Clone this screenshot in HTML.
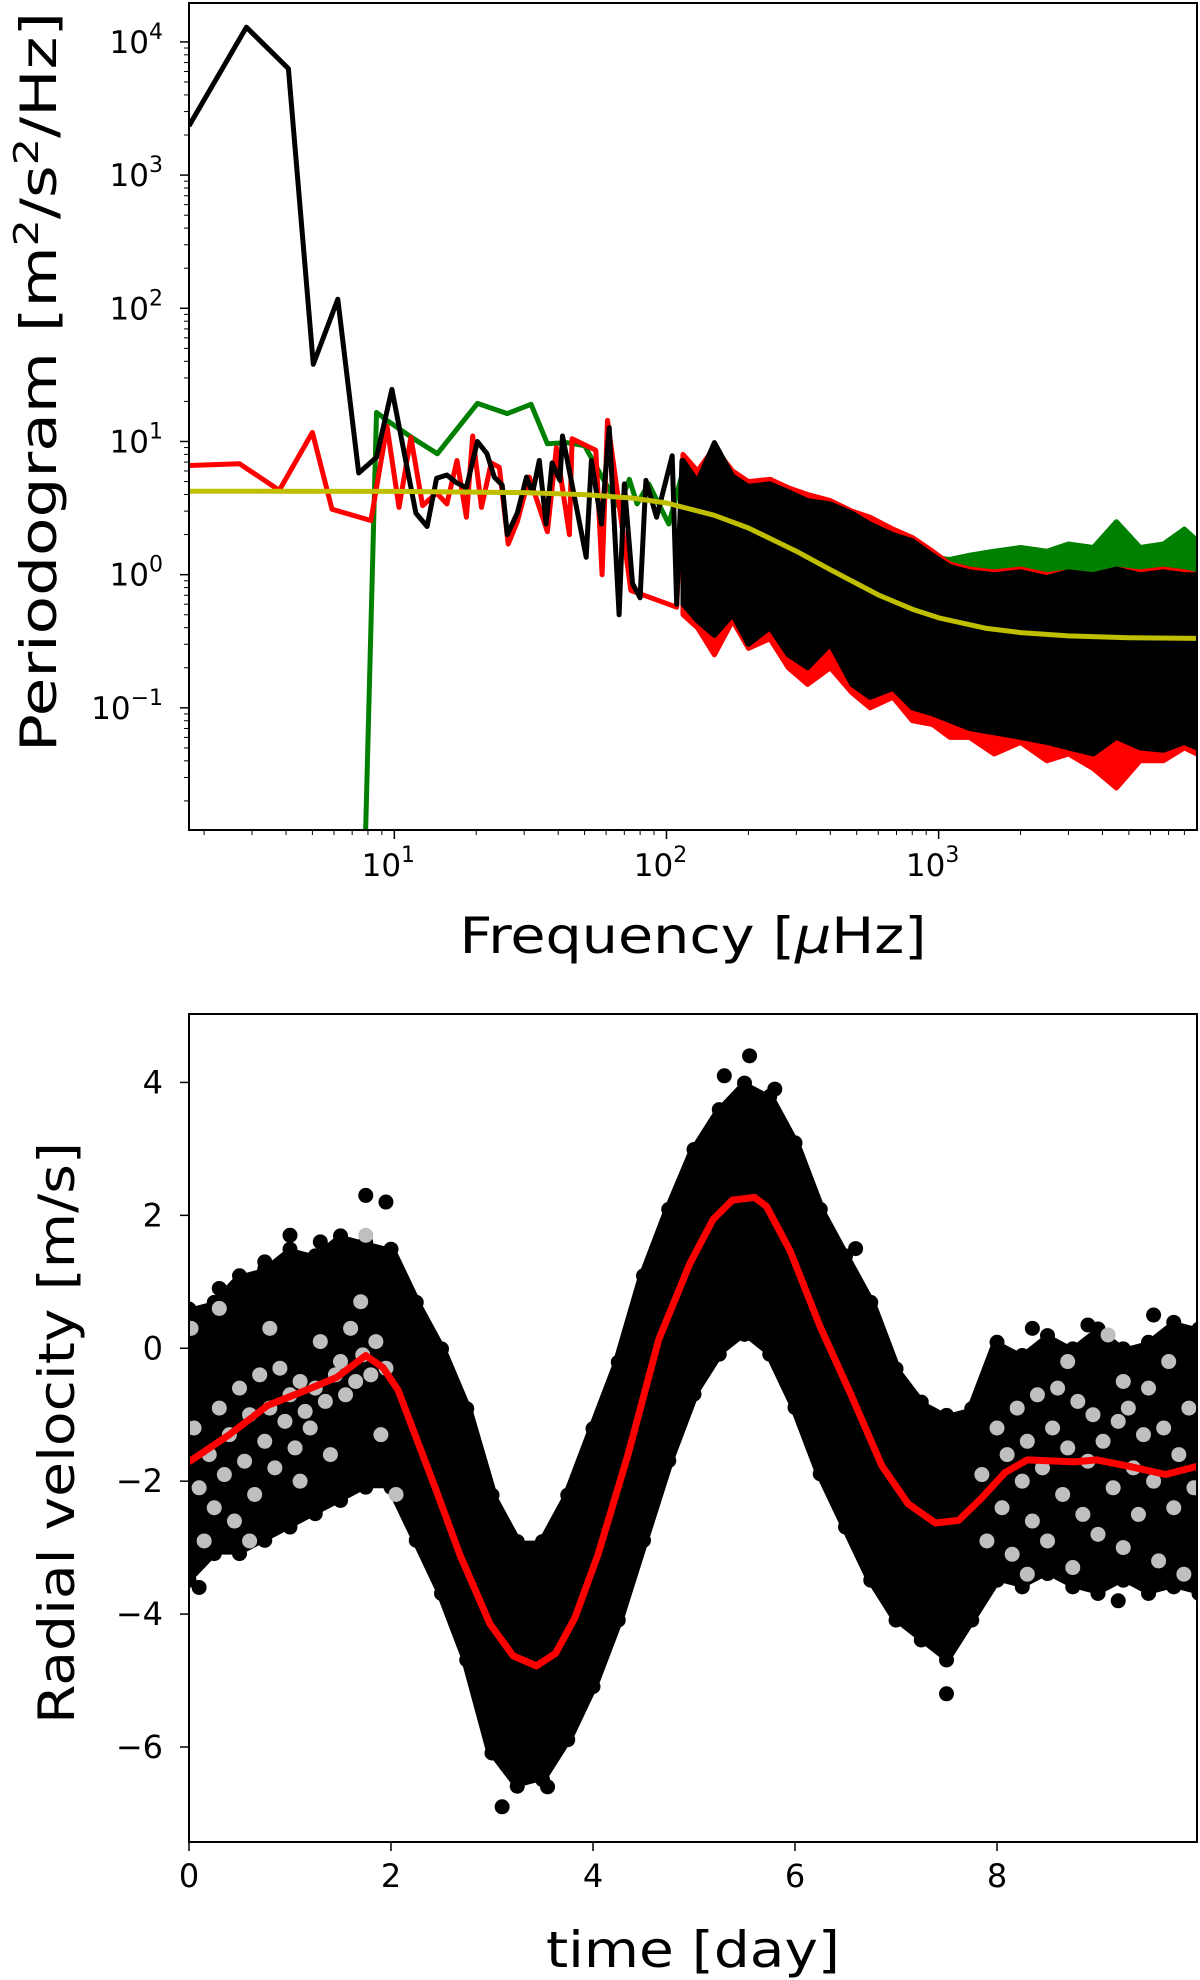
<!DOCTYPE html>
<html><head><meta charset="utf-8"><style>
html,body{margin:0;padding:0;background:#fff}
svg{display:block;font-family:"DejaVu Sans","Liberation Sans",sans-serif}
</style></head><body>
<svg id="fig" width="1200" height="1980" viewBox="0 0 1200 1980" xmlns="http://www.w3.org/2000/svg">
<defs>
<clipPath id="clipTop"><rect x="189" y="3" width="1008" height="827"/></clipPath>
<clipPath id="clipBot"><rect x="189" y="1014" width="1008" height="828"/></clipPath>
</defs>
<g id="topPanel"></g>
<g id="botPanel"></g>
</svg>
<script>
// ---------- Periodogram data ----------
const blackF = [1.76,2.86,4.08,5.04,6.2,7.4,8.6,9.8,12.0,13.2,14.3,15.6,16.9,18.4,20.2,21.9,23.3,24.9,26,28.3,30.6,32.2,34.1,36.1,38,40.6,41.5,44,50.7,53,57.7,61.6,67,70,75,80,84,92,105,109,114];
const blackP = [2340,12900,6300,38,117,5.8,7.6,24.6,2.9,2.3,5.3,5.6,4.9,4.5,10,8.1,5.4,4.7,2.0,2.9,5.4,4.1,7.2,2.4,6.9,5.1,11,6,1.35,7.2,2.4,12.7,0.5,4.8,0.86,0.67,5.1,2.7,7.8,0.6,7.2];
const redF = [1.76,2.7,3.78,5.0,5.9,7.0,8.2,9.4,10.4,11.5,12.7,14.3,15.6,17.0,18.4,19.4,20.9,22.7,24.3,26.2,28.3,31.3,36.5,39.4,44,45,55,58,60.7,74,109];
const redP = [6.6,6.8,4.3,11.7,3.1,2.8,2.55,13,3.2,10.7,3.3,4.1,3.4,7.2,2.7,11,3.2,6.9,6.4,1.7,2.5,5.4,2.1,9,2.0,10.5,8.6,1.0,14.4,0.76,0.57];
const greenF = [7.6,8.6,9.4,11.6,14.4,20.2,26,31.8,36.5,43,50,58,67,73,78,86,102];
const greenP = [0.001,16.5,14.4,10.7,8.1,19.3,16.2,19,9.6,9.8,9.3,5.4,3.2,5.2,3.4,4.8,2.4];
const denseF = [115,130,150,175,200,240,280,330,400,480,560,680,800,950,1100,1300,1600,2000,2500,3000,3700,4500,5500,6700,8000,8900];
const blackHi = [7.2,5.0,9.8,5.5,4.6,4.8,4.2,3.6,3.4,2.9,2.4,2.0,1.8,1.4,1.15,1.05,1.0,1.05,0.95,1.05,1.0,1.1,1.0,1.05,1.0,1.0];
const blackLo = [0.6,0.45,0.35,0.5,0.3,0.4,0.25,0.2,0.3,0.15,0.12,0.14,0.1,0.09,0.08,0.07,0.065,0.06,0.055,0.05,0.045,0.06,0.05,0.048,0.055,0.05];
const redHi = [8,6,9,6,5,5.2,4.5,4,3.6,3,2.7,2.2,1.9,1.5,1.2,1.1,1.05,1.1,1.0,1.05,1.0,1.1,1.05,1.1,1.05,1.0];
const redLo = [0.5,0.4,0.25,0.45,0.28,0.33,0.2,0.15,0.2,0.13,0.1,0.12,0.08,0.075,0.06,0.06,0.045,0.055,0.04,0.045,0.035,0.025,0.04,0.04,0.05,0.045];
const greenHi = [6,4.5,8,5,4.2,4.4,3.8,3.3,3.1,2.7,2.3,1.9,1.7,1.35,1.3,1.4,1.5,1.6,1.5,1.7,1.6,2.5,1.6,1.7,2.2,1.8];
const modelF = [1.76,10,30,50,75,100,150,200,300,400,600,800,1000,1500,2000,3000,5000,8900];
const modelP = [4.23,4.22,4.13,3.99,3.76,3.45,2.79,2.24,1.50,1.09,0.705,0.55,0.474,0.395,0.367,0.347,0.336,0.332];
const yDecades = [-1,0,1,2,3,4];
const xDecades = [1,2,3];

// ---------- Radial velocity data ----------
const modelT = [0,0.4,0.78,1.16,1.46,1.75,1.92,2.07,2.26,2.45,2.68,2.98,3.21,3.44,3.63,3.82,4.05,4.35,4.65,4.96,5.19,5.38,5.6,5.72,5.95,6.25,6.56,6.86,7.12,7.39,7.62,7.85,8.08,8.3,8.76,8.99,9.29,9.67,10];
const modelRV = [-1.71,-1.3,-0.86,-0.63,-0.44,-0.11,-0.29,-0.63,-1.39,-2.15,-3.1,-4.15,-4.63,-4.78,-4.59,-4.06,-3.1,-1.58,0.13,1.28,1.94,2.23,2.27,2.13,1.47,0.32,-0.72,-1.77,-2.34,-2.63,-2.59,-2.25,-1.87,-1.68,-1.71,-1.68,-1.77,-1.9,-1.77];
const envT = [0,0.25,0.5,0.75,1,1.25,1.5,1.75,2,2.25,2.5,2.75,3,3.25,3.5,3.75,4,4.25,4.5,4.75,5,5.25,5.5,5.75,6,6.25,6.5,6.75,7,7.25,7.5,7.75,8,8.25,8.5,8.75,9,9.25,9.5,9.75,10];
const envHi = [0.5,0.6,1.0,1.1,1.4,1.3,1.6,1.5,1.4,0.6,-0.1,-1.0,-2.3,-3.0,-3.0,-2.3,-1.3,-0.3,1.0,2.0,2.9,3.5,3.9,3.7,3.0,2.0,1.3,0.6,-0.4,-0.9,-1.1,-1.0,0.0,-0.2,0.1,-0.1,0.2,-0.1,0.0,0.3,0.2];
const envLo = [-3.4,-3.0,-3.0,-2.8,-2.6,-2.4,-2.2,-2.0,-2.0,-2.8,-3.6,-4.6,-6.0,-6.5,-6.4,-5.8,-5.0,-4.0,-2.8,-1.6,-0.6,0.0,0.3,0.0,-0.8,-1.8,-2.6,-3.4,-4.0,-4.3,-4.6,-4.0,-3.4,-3.5,-3.3,-3.5,-3.6,-3.4,-3.6,-3.5,-3.6];
const outT = [1.75,1.95,1.3,0.75,5.55,5.3,5.8,3.1,3.55,7.5,0.1,9.2,2.3,6.6,8.35,9.55,0.3,1.0,8.9,4.6];
const outRV = [2.3,2.2,1.6,1.3,4.4,4.1,3.9,-6.9,-6.6,-5.2,-3.6,-3.8,-2.7,1.5,0.3,0.5,0.9,1.7,0.35,1.3];
const greyT = [0.02,0.05,0.1,0.15,0.2,0.25,0.3,0.35,0.4,0.45,0.5,0.55,0.6,0.65,0.7,0.75,0.8,0.85,0.9,0.95,1.0,1.05,1.1,1.15,1.2,1.25,1.3,1.35,1.4,1.45,1.5,1.55,1.6,1.65,1.7,1.72,1.75,1.8,1.85,1.9,1.95,2.05,0.3,0.6,0.8,1.1,
7.85,7.9,8.0,8.05,8.1,8.15,8.2,8.25,8.3,8.35,8.4,8.45,8.5,8.55,8.6,8.65,8.7,8.75,8.8,8.85,8.9,8.95,9.0,9.05,9.1,9.15,9.2,9.25,9.3,9.35,9.4,9.45,9.5,9.55,9.6,9.65,9.7,9.75,9.8,9.85,9.9,9.95,8.3,8.7,9.25];
const greyRV = [0.3,-1.2,-2.1,-2.9,-1.6,-2.4,-0.9,-1.9,-1.3,-2.6,-0.6,-1.7,-1.0,-2.2,-0.4,-1.4,-0.9,-1.8,-0.3,-1.1,-0.7,-1.5,-0.5,-0.95,-1.2,-0.6,0.1,-0.8,-1.6,-0.4,-0.2,-0.7,0.3,-0.5,0.7,-0.1,1.7,-0.4,0.1,-1.3,-0.3,-2.2,0.6,-2.9,0.3,-2.0,
-1.9,-2.9,-1.2,-2.4,-1.6,-3.1,-0.9,-2.0,-1.4,-2.6,-0.7,-1.8,-2.9,-1.2,-0.6,-2.2,-1.5,-3.3,-0.8,-2.5,-1.7,-1.0,-2.8,-1.4,0.2,-2.1,-1.1,-3.0,-0.9,-1.8,-2.5,-1.3,-0.6,-2.0,-3.2,-1.2,-0.2,-2.4,-1.6,-3.4,-0.9,-2.1,-3.4,-0.2,-0.5];
const rvTicks = [-6,-4,-2,0,2,4];
const tTicks = [0,2,4,6,8];

const NS = "http://www.w3.org/2000/svg";
function mk(tag, attrs, parent){const e=document.createElementNS(NS,tag);for(const k in attrs)e.setAttribute(k,attrs[k]);parent.appendChild(e);return e;}

// ---------- Top panel ----------
const topG = document.getElementById('topPanel');
const TL=189,TR=1197,TT=3,TB=830;
const lx0=Math.log10(1.76), lx1=Math.log10(8900);
const ly0=Math.log10(0.0121), ly1=Math.log10(19600);
function fx(f){return TL+(Math.log10(f)-lx0)/(lx1-lx0)*(TR-TL);}
function py(p){return TB-(Math.log10(p)-ly0)/(ly1-ly0)*(TB-TT);}
const tplot = mk('g',{'clip-path':'url(#clipTop)'},topG);


function band(F,Hi,Lo,color,name){
  let pts=F.map((f,i)=>fx(f).toFixed(1)+','+py(Hi[i]).toFixed(1));
  for(let i=F.length-1;i>=0;i--)pts.push(fx(F[i]).toFixed(1)+','+py(Lo[i]).toFixed(1));
  const p=mk('polygon',{points:pts.join(' '),fill:color,stroke:color,'stroke-width':5,'stroke-linejoin':'round'},tplot);
  
  
}
function line(F,P,color,w,name){
  const pts=F.map((f,i)=>fx(f).toFixed(1)+','+py(P[i]).toFixed(1)).join(' ');
  const l=mk('polyline',{points:pts,fill:'none',stroke:color,'stroke-width':w,'stroke-linejoin':'round'},tplot);
  
  
}
line(greenF.concat([denseF[0]]),greenP.concat([greenHi[0]]),'#008000',5,'green-periodogram-line');
band(denseF,greenHi,blackLo,'#008000','green-periodogram-band');
line(redF.concat([denseF[0]]),redP.concat([redHi[0]]),'#ff0000',5,'red-periodogram-line');
band(denseF,redHi,redLo,'#ff0000','red-periodogram-band');
line(blackF.concat([denseF[0]]),blackP.concat([blackHi[0]]),'#000000',5,'black-periodogram-line');
band(denseF,blackHi,blackLo,'#000000','black-periodogram-band');
line(modelF,modelP,'#bfbf00',5,'model-fit-line');

const tframe=mk('rect',{x:TL,y:TT,width:TR-TL,height:TB-TT,fill:'none',stroke:'#000','stroke-width':2},topG);


yDecades.forEach(d=>{
  const y=py(Math.pow(10,d));
  mk('line',{x1:TL-9,x2:TL,y1:y,y2:y,stroke:'#000','stroke-width':1.5},topG);
  const t=mk('text',{x:163,y:y+11,'font-size':31,'text-anchor':'end'},topG);
  
  
  t.appendChild(document.createTextNode('10'));
  const s=mk('tspan',{dy:-14,'font-size':22},t); s.textContent=(d<0?'\u2212'+(-d):String(d));
  for(let m=2;m<10;m++){const v=m*Math.pow(10,d);if(v<0.0121||v>19600)continue;const yy=py(v);mk('line',{x1:TL-5,x2:TL,y1:yy,y2:yy,stroke:'#000','stroke-width':1},topG);}
});
for(let m=2;m<10;m++){const v=m*0.01;if(v<0.0121)continue;const yy=py(v);mk('line',{x1:TL-5,x2:TL,y1:yy,y2:yy,stroke:'#000','stroke-width':1},topG);}
[0,1,2,3].forEach(d=>{
  for(let m=1;m<10;m++){const v=m*Math.pow(10,d);if(v<1.76||v>8900)continue;const x=fx(v);
    mk('line',{x1:x,x2:x,y1:TB,y2:TB+(m===1?9:5),stroke:'#000','stroke-width':m===1?1.5:1},topG);}
});
xDecades.forEach(d=>{
  const x=fx(Math.pow(10,d));
  const t=mk('text',{x:x-6,y:TB+46,'font-size':31,'text-anchor':'middle'},topG);
  
  
  t.appendChild(document.createTextNode('10'));
  const s=mk('tspan',{dy:-14,'font-size':22},t); s.textContent=String(d);
});
{const t=mk('text',{x:693,y:953,'font-size':50,'text-anchor':'middle',textLength:467,lengthAdjust:'spacingAndGlyphs'},topG);


t.appendChild(document.createTextNode('Frequency ['));
const mu=mk('tspan',{'font-style':'italic'},t); mu.textContent='\u03bc';
t.appendChild(document.createTextNode('Hz]'));}
{const t=mk('text',{x:0,y:0,'font-size':50,'text-anchor':'middle',transform:'translate(56,382) rotate(-90)',textLength:740,lengthAdjust:'spacingAndGlyphs'},topG);


t.appendChild(document.createTextNode('Periodogram [m'));
let s=mk('tspan',{dy:-18,'font-size':34},t); s.textContent='2';
s=mk('tspan',{dy:18},t); s.textContent='/s';
s=mk('tspan',{dy:-18,'font-size':34},t); s.textContent='2';
s=mk('tspan',{dy:18},t); s.textContent='/Hz]';}

// ---------- Bottom panel ----------
const botG=document.getElementById('botPanel');
const BL=189,BR=1197,BT=1014,BB=1842;
const t0=0,t1=9.98,v0=-7.43,v1=5.03;
function tx(t){return BL+(t-t0)/(t1-t0)*(BR-BL);}
function vy(v){return BB-(v-v0)/(v1-v0)*(BB-BT);}
const bplot=mk('g',{'clip-path':'url(#clipBot)'},botG);


{let pts=envT.map((t,i)=>tx(t).toFixed(1)+','+vy(envHi[i]).toFixed(1));
 for(let i=envT.length-1;i>=0;i--)pts.push(tx(envT[i]).toFixed(1)+','+vy(envLo[i]).toFixed(1));
 const p=mk('polygon',{points:pts.join(' '),fill:'#000',stroke:'#000','stroke-width':14,'stroke-linejoin':'round'},bplot);
 
 }
envT.forEach((t,i)=>{
  const a=mk('circle',{cx:tx(t),cy:vy(envHi[i])-6,r:7.5,fill:'#000'},bplot);
  
  
  const b=mk('circle',{cx:tx(t),cy:vy(envLo[i])+6,r:7.5,fill:'#000'},bplot);
  
  
});
outT.forEach((t,i)=>{
  const c=mk('circle',{cx:tx(t),cy:vy(outRV[i]),r:7.5,fill:'#000'},bplot);
  
  
});
greyT.forEach((t,i)=>{
  const c=mk('circle',{cx:tx(t),cy:vy(greyRV[i]),r:7.5,fill:'#bfbfbf'},bplot);
  
  
});
{const pts=modelT.map((t,i)=>tx(t).toFixed(1)+','+vy(modelRV[i]).toFixed(1)).join(' ');
 const l=mk('polyline',{points:pts,fill:'none',stroke:'#ff0000','stroke-width':7,'stroke-linejoin':'round'},bplot);
 
 }
const bframe=mk('rect',{x:BL,y:BT,width:BR-BL,height:BB-BT,fill:'none',stroke:'#000','stroke-width':2},botG);


rvTicks.forEach(v=>{
  const y=vy(v);
  mk('line',{x1:BL-9,x2:BL,y1:y,y2:y,stroke:'#000','stroke-width':1.5},botG);
  const t=mk('text',{x:163,y:y+11,'font-size':32,'text-anchor':'end'},botG);
  
  
  t.textContent=v<0?'\u2212'+(-v):String(v);
});
tTicks.forEach(v=>{
  const x=tx(v);
  mk('line',{x1:x,x2:x,y1:BB,y2:BB+9,stroke:'#000','stroke-width':1.5},botG);
  const t=mk('text',{x:x,y:BB+45,'font-size':32,'text-anchor':'middle'},botG);
  
  
  t.textContent=String(v);
});
{const t=mk('text',{x:693,y:1967,'font-size':50,'text-anchor':'middle',textLength:294,lengthAdjust:'spacingAndGlyphs'},botG);


t.textContent='time [day]';}
{const t=mk('text',{x:0,y:0,'font-size':50,'text-anchor':'middle',transform:'translate(74,1433) rotate(-90)',textLength:582,lengthAdjust:'spacingAndGlyphs'},botG);


t.textContent='Radial velocity [m/s]';}
</script>
</body></html>
